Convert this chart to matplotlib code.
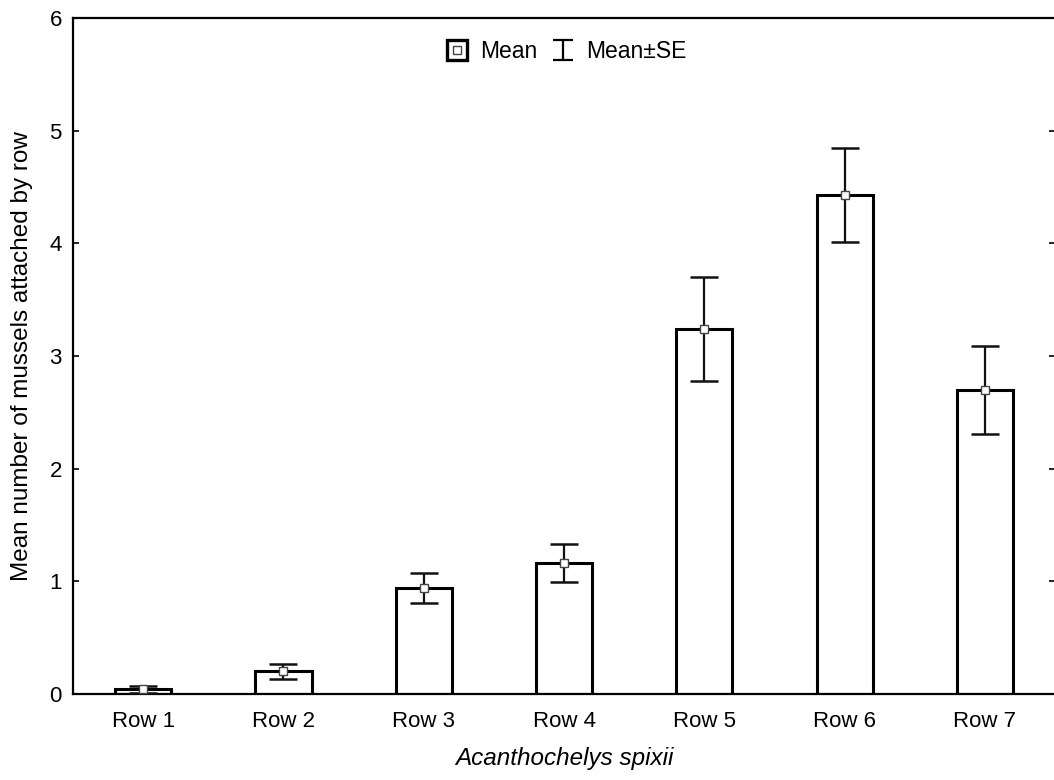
import numpy as np
import matplotlib.pyplot as plt
from matplotlib.lines import Line2D
from matplotlib.path import Path
from matplotlib.legend_handler import HandlerTuple

plt.rcParams['font.family'] = ['Liberation Sans', 'DejaVu Sans']

# mean mussels attached per row and standard error
rows = ["Row 1", "Row 2", "Row 3", "Row 4", "Row 5", "Row 6", "Row 7"]
means = [0.04, 0.20, 0.94, 1.16, 3.24, 4.43, 2.70]
se = [0.03, 0.07, 0.13, 0.17, 0.46, 0.42, 0.39]

fig = plt.figure(figsize=(10.54, 7.80), dpi=100)
ax = fig.add_axes([0.0693, 0.1103, 0.9317, 0.8667])

x = np.arange(len(rows))
ax.bar(x, means, width=0.4, facecolor='white', edgecolor='black', linewidth=2.2, zorder=2)
ax.errorbar(x, means, yerr=se, fmt='none', ecolor='#111111', elinewidth=1.6,
            capsize=10, capthick=1.8, zorder=3)
ax.plot(x, means, linestyle='none', marker='s', markersize=6, markerfacecolor='white',
        markeredgecolor='#444444', markeredgewidth=1.0, zorder=4)

ax.set_xlim(-0.5, len(rows) - 0.5)
ax.set_ylim(0, 6)
ax.set_xticks(x)
ax.set_xticklabels(rows)
ax.set_yticks(range(0, 7))

for s in ax.spines.values():
    s.set_linewidth(1.6)

ax.tick_params(axis='x', direction='in', length=3, width=1.2, pad=12, labelsize=16)
ax.tick_params(axis='y', direction='in', length=4, width=1.2, pad=8, labelsize=16,
               right=True)

ax.set_ylabel("Mean number of mussels attached by row", fontsize=17.5, labelpad=12)
ax.set_xlabel("Acanthochelys spixii", fontsize=17.5, style='italic', labelpad=11)

# legend: boxed mean marker and an I-shaped SE marker
outer = Line2D([], [], linestyle='none', marker='s', markersize=15,
               markerfacecolor='white', markeredgecolor='black', markeredgewidth=2.4)
inner = Line2D([], [], linestyle='none', marker='s', markersize=6,
               markerfacecolor='white', markeredgecolor='#444444', markeredgewidth=1.0)
ibar = Path([(-0.95, 1), (0.95, 1), (0, 1), (0, -1), (-0.95, -1), (0.95, -1)],
            [Path.MOVETO, Path.LINETO, Path.MOVETO, Path.LINETO, Path.MOVETO, Path.LINETO])
se_handle = Line2D([], [], linestyle='none', marker=ibar, markersize=15,
                   markeredgecolor='black', markeredgewidth=1.6)
ax.legend([(outer, inner), se_handle], ["Mean", "Mean±SE"],
          handler_map={tuple: HandlerTuple(ndivide=1, pad=0)},
          loc='upper center', bbox_to_anchor=(0.502, 0.998), ncol=2, frameon=False,
          fontsize=16.5, handlelength=1.0, handletextpad=0.5, columnspacing=0.6)

fig.savefig("out.png", dpi=100)
